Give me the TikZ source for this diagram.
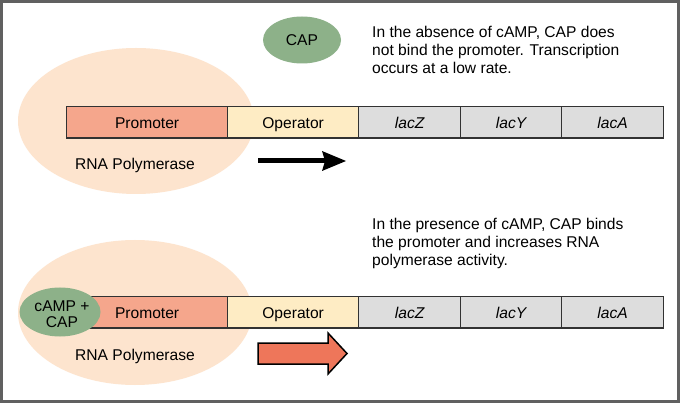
\documentclass[tikz,border=0pt]{standalone}
\usepackage{fontspec}
\setmainfont{Liberation Sans}
\usetikzlibrary{arrows.meta,shapes.geometric}
\definecolor{promo}{RGB}{245,166,140}
\definecolor{oper}{RGB}{254,236,196}
\definecolor{gene}{RGB}{221,221,221}
\definecolor{pol}{RGB}{253,228,206}
\definecolor{capg}{RGB}{141,177,137}
\definecolor{arrowred}{RGB}{238,118,90}
\definecolor{barline}{RGB}{50,50,50}
\definecolor{framec}{RGB}{96,96,96}
\begin{document}
\begin{tikzpicture}[x=1pt,y=-1pt,
  font=\fontsize{15.6}{18}\selectfont,
  seg/.style={draw=barline, line width=1.2pt, minimum height=31.5pt, inner sep=0pt,
    anchor=north west, text height=11.5pt, text depth=0pt},
  polblob/.style={ellipse, fill=pol, inner sep=0pt, minimum width=236pt, minimum height=146pt},
  capblob/.style={ellipse, fill=capg, inner sep=0pt},
  gname/.style={font=\fontsize{15.6}{18}\selectfont\itshape},
  para/.style={anchor=north west, align=left, inner sep=0pt},
  lbl/.style={inner sep=0pt, anchor=base}]
\useasboundingbox (0,0) rectangle (680,403);
\fill[white] (0,0) rectangle (680,403);
\draw[framec, line width=3pt] (1.5,1.5) rectangle (678.5,401.5);

% ---- top panel ----
\node[polblob] (pol1) at (136,121) {};
\node[capblob, minimum width=78pt, minimum height=47pt, text height=11pt, text depth=0pt] (cap1) at (302,40) {CAP};
\node[para] (txt1) at (372,25.5) {In the absence of cAMP, CAP does\\not bind the promoter. Transcription\\occurs at a low rate.};

\node[seg, fill=promo, minimum width=161pt] (pr1) at (66,106) {Promoter};
\node[seg, fill=oper, minimum width=131pt] (op1) at (227,106) {Operator};
\node[seg, fill=gene, minimum width=102pt, gname] (z1) at (358,106) {lacZ};
\node[seg, fill=gene, minimum width=101pt, gname] (y1) at (460,106) {lacY};
\node[seg, fill=gene, minimum width=102pt, gname] (a1) at (561,106) {lacA};

\node[lbl] (rp1) at (135,170) {RNA Polymerase};

\coordinate (ar1s) at (258,161);
\coordinate (ar1e) at (346,161);
\draw[line width=5pt, -{Stealth[length=24pt,width=20pt,inset=3pt,line width=0pt]}] (ar1s) -- (ar1e);

% ---- bottom panel ----
\node[polblob, minimum width=234pt, minimum height=145pt] (pol2) at (135,312.5) {};
\node[para] (txt2) at (372,217.6) {In the presence of cAMP, CAP binds\\the promoter and increases RNA\\polymerase activity.};

\node[seg, fill=promo, minimum width=161pt] (pr2) at (66,296) {Promoter};
\node[seg, fill=oper, minimum width=131pt] (op2) at (227,296) {Operator};
\node[seg, fill=gene, minimum width=102pt, gname] (z2) at (358,296) {lacZ};
\node[seg, fill=gene, minimum width=101pt, gname] (y2) at (460,296) {lacY};
\node[seg, fill=gene, minimum width=102pt, gname] (a2) at (561,296) {lacA};

\node[capblob, minimum width=81pt, minimum height=49pt] (cap2) at (60,312) {};
\node[inner sep=0pt, align=center, font=\fontsize{15.6}{16}\selectfont] (cap2t) at (62,314.4) {cAMP +\\CAP};

\node[lbl] (rp2) at (135,360) {RNA Polymerase};

\draw[fill=arrowred, draw=black, line width=1.5pt, line join=miter]
  (258,343) -- (328,343) -- (328,333) -- (347,353.5) -- (328,374) -- (328,364) -- (258,364) -- cycle;
\end{tikzpicture}
\end{document}
